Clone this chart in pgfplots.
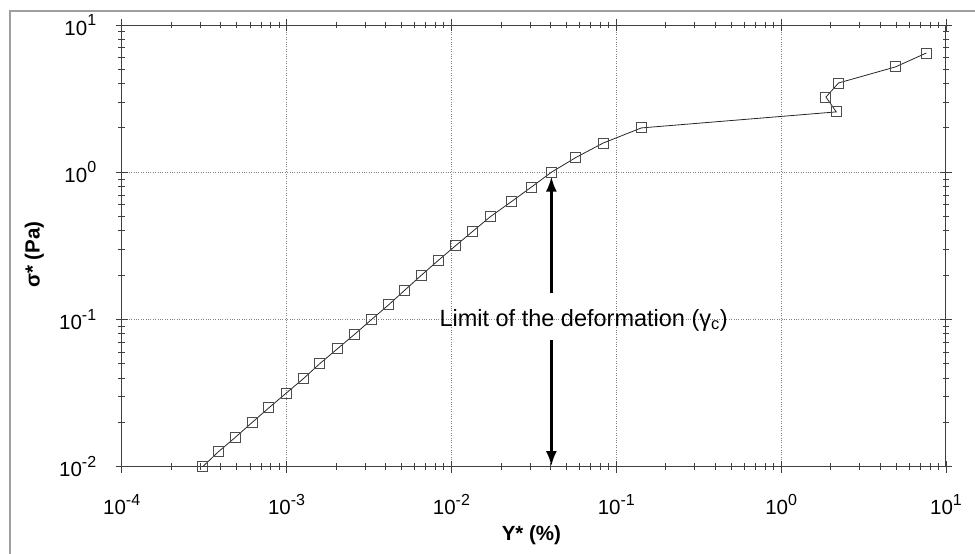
\documentclass[border=0pt]{standalone}
\usepackage{fontspec}
\setmainfont{Liberation Sans}
\usepackage{pgfplots}
\pgfplotsset{compat=1.18}
\usetikzlibrary{arrows.meta}

% decade label as 10 with a raised exponent, in the text font
\newcommand{\decade}[1]{10\raisebox{9.5pt}{\fontsize{16}{16}\selectfont #1}}

\begin{document}
\begin{tikzpicture}
\useasboundingbox (0pt,0pt) rectangle (975pt,-554pt);
% window frame (cropped)
\draw[gray!75, line width=2pt] (10pt,-554pt) -- (10pt,-11pt) -- (975pt,-11pt);

\begin{axis}[
    at={(121.7pt,-466.7pt)}, anchor=south west,
    scale only axis,
    width=824.3pt, height=441.7pt,
    xmode=log, ymode=log,
    xmin=1e-4, xmax=10,
    ymin=1e-2, ymax=10,
    axis line style={black!75, line width=1pt},
    tick style={black!75, line width=0.9pt},
    tick align=center,
    major tick length=12pt,
    minor tick length=7pt,
    grid=major,
    grid style={dotted, black!50, line width=1pt},
    xticklabel={\pgfmathtruncatemacro\ex{round(\tick/2.302585093)}\decade{\ex}},
    yticklabel={\pgfmathtruncatemacro\ex{round(\tick/2.302585093)}\decade{\ex}},
    tick label style={font=\fontsize{20.5}{20.5}\selectfont},
    xticklabel style={yshift=-18pt},
    yticklabel style={xshift=-16pt},
    xlabel={\bfseries Y* (\%)},
    ylabel={\bfseries σ* (Pa)},
    every axis x label/.style={at={(rel axis cs:0.497,-0.156)}, anchor=center,
        font=\fontsize{20.5}{20.5}\selectfont},
    every axis y label/.style={at={(rel axis cs:-0.106,0.48)}, rotate=90, anchor=center,
        font=\fontsize{20.5}{20.5}\selectfont},
]
\addplot[black!85, line width=0.8pt, mark=square, mark size=5pt,
         mark options={draw=black!70, line width=0.9pt, fill=none}]
    coordinates {
    (3.10e-4,0.0100) (3.85e-4,0.0126) (4.88e-4,0.0158) (6.19e-4,0.0200)
    (7.81e-4,0.0251) (9.95e-4,0.0316) (1.27e-3,0.0398) (1.59e-3,0.0501)
    (2.03e-3,0.0631) (2.59e-3,0.0794) (3.28e-3,0.100) (4.17e-3,0.126)
    (5.21e-3,0.158) (6.58e-3,0.200) (8.29e-3,0.251) (1.057e-2,0.316)
    (1.35e-2,0.398) (1.73e-2,0.501) (2.31e-2,0.631) (3.06e-2,0.794)
    (4.04e-2,1.00) (5.69e-2,1.26) (8.34e-2,1.58) (0.142,2.00)
    (2.16,2.57) (1.87,3.24) (2.23,4.04) (4.93,5.19) (7.6,6.45)
    };

% critical strain annotation
\draw[black, line width=2.6pt, -{Latex[length=15pt,width=11pt]}]
    (axis cs:4.04e-2,0.151) -- (axis cs:4.04e-2,0.935);
\draw[black, line width=2.6pt, -{Latex[length=15pt,width=11pt]}]
    (axis cs:4.04e-2,0.0726) -- (axis cs:4.04e-2,0.0101);
\node[font=\fontsize{23.5}{23.5}\selectfont, anchor=center]
    at (axis cs:0.0634,0.0993) {Limit of the deformation (γ\textsubscript{c})};
\end{axis}
\end{tikzpicture}
\end{document}
